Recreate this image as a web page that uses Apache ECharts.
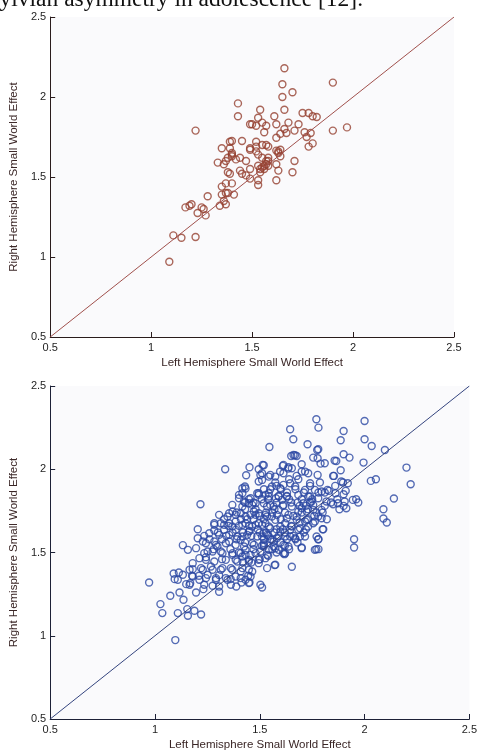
<!DOCTYPE html>
<html>
<head>
<meta charset="utf-8">
<script src="https://cdn.jsdelivr.net/npm/echarts@6/dist/echarts.min.js"></script>
<style>
html,body{margin:0;padding:0;background:#ffffff;}
#chart{width:480px;height:752px;}
</style>
</head>
<body>
<div id="chart"></div>
<script>
// Axis ticks shared by both panels
var axisTicks = [0.5, 1, 1.5, 2, 2.5];
var axisTitleX = 'Left Hemisphere Small World Effect';
var axisTitleY = 'Right Hemisphere Small World Effect';
var captionText = 'sylvian asymmetry in adolescence [12].';

// Identity line y = x
var identityLine = [[0.5, 0.5], [2.5, 2.5]];

// Top panel: [left, right] small world effect
var topPoints = [
[1.66,2.18],[1.90,2.09],[1.65,2.08],[1.70,2.03],[1.65,2.00],[1.43,1.96],[1.54,1.92],[1.66,1.92],
[1.43,1.88],[1.53,1.87],[1.61,1.88],[1.49,1.83],[1.50,1.83],[1.52,1.82],[1.55,1.84],[1.57,1.82],
[1.56,1.78],[1.62,1.83],[1.68,1.84],[1.75,1.90],[1.78,1.90],[1.80,1.88],[1.82,1.875],[1.73,1.83],
[1.71,1.79],[1.66,1.80],[1.67,1.775],[1.64,1.77],[1.62,1.745],[1.76,1.78],[1.79,1.775],[1.77,1.75],
[1.90,1.79],[1.97,1.81],[1.22,1.79],[1.78,1.69],[1.80,1.71],[1.45,1.725],[1.39,1.72],[1.40,1.725],
[1.35,1.68],[1.39,1.68],[1.40,1.65],[1.40,1.63],[1.42,1.61],[1.33,1.59],[1.36,1.58],[1.37,1.60],
[1.38,1.53],[1.39,1.52],[1.47,1.60],[1.52,1.72],[1.55,1.70],[1.57,1.70],[1.58,1.69],[1.49,1.68],
[1.49,1.67],[1.52,1.66],[1.53,1.64],[1.55,1.62],[1.57,1.60],[1.57,1.58],[1.56,1.57],[1.54,1.55],
[1.54,1.53],[1.49,1.55],[1.44,1.54],[1.45,1.52],[1.49,1.49],[1.53,1.48],[1.53,1.45],[1.62,1.665],
[1.63,1.65],[1.64,1.63],[1.62,1.58],[1.63,1.54],[1.62,1.48],[1.71,1.60],[1.70,1.53],[1.58,1.62],
[1.58,1.57],[1.35,1.44],[1.37,1.46],[1.40,1.46],[1.35,1.39],[1.37,1.40],[1.38,1.40],[1.36,1.35],
[1.37,1.33],[1.34,1.32],[1.28,1.38],[1.41,1.39],[1.17,1.31],[1.19,1.32],[1.20,1.33],[1.25,1.31],
[1.26,1.30],[1.23,1.275],[1.27,1.26],[1.11,1.135],[1.15,1.12],[1.22,1.125],[1.09,0.97],
[1.53,1.57],[1.55,1.56],[1.56,1.55],[1.63,1.66],[1.64,1.67],[1.40,1.64],[1.38,1.62],[1.47,1.51],
[1.44,1.62],[1.52,1.69],[1.58,1.60]
];

// Bottom panel: [left, right] small world effect
var bottomPoints = [
[1.77,2.30],[2.00,2.29],[1.78,2.25],[1.645,2.24],[1.90,2.23],[1.66,2.18],[1.886,2.174],[2.00,2.18],
[1.728,2.15],[1.546,2.134],[2.034,2.14],[2.097,2.116],[1.774,2.116],[1.65,2.08],[1.668,2.084],[1.755,2.07],
[1.90,2.09],[1.928,2.07],[1.865,2.05],[1.995,2.04],[1.79,2.034],[1.335,2.00],[1.519,2.024],[1.495,2.00],
[1.61,2.02],[1.636,2.004],[1.70,2.03],[1.886,1.994],[1.85,1.96],[2.20,2.01],[2.22,1.91],[2.03,1.93],
[2.054,1.94],[2.14,1.824],[1.96,1.82],[1.97,1.80],[1.944,1.816],[1.897,1.92],[1.91,1.87],[1.85,1.79],
[1.90,1.78],[2.09,1.76],[2.09,1.704],[2.106,1.68],[1.95,1.58],[1.95,1.53],[1.80,1.64],[1.78,1.58],
[1.78,1.52],[1.77,1.52],[1.70,1.53],[1.653,1.414],[1.571,1.424],[1.511,1.29],[1.618,1.49],[0.972,1.32],
[1.026,1.19],[1.035,1.136],[1.073,1.24],[1.089,1.374],[1.114,1.38],[1.094,1.34],[1.117,1.26],[1.109,1.136],
[1.097,0.974],[1.136,1.216],[1.154,1.16],[1.157,1.12],[1.188,1.15],[1.22,1.128],[1.149,1.31],[1.168,1.316],
[1.133,1.544],[1.157,1.516],[1.217,1.79],[1.204,1.64],[1.435,1.964],[1.432,1.884],[1.306,1.264],[1.231,1.28],
[1.196,1.26],[1.18,1.40],[1.177,1.36],[1.21,1.36],[1.275,1.30],[1.306,1.364],[1.388,1.296],[1.361,1.34],
[1.413,1.32],[1.451,1.32],[1.445,1.36],
[1.779,2.12],[1.661,2.086],[1.676,2.08],[1.776,2.066],[1.857,2.052],[1.81,2.036],[1.514,2.026],[1.451,2.012],
[1.613,2.026],[1.637,2.012],[1.653,2.006],[1.597,1.986],[1.70,1.986],[1.716,1.986],[1.731,1.976],[1.776,1.966],
[1.854,1.96],[1.889,1.926],[1.92,1.916],[1.503,1.966],[1.55,1.966],[1.574,1.956],[1.613,1.976],[1.676,1.96],
[1.684,1.94],[1.645,1.916],[1.74,1.916],[1.787,1.92],[1.823,1.876],[1.861,1.856],[1.905,1.806],[1.873,1.796],
[1.913,1.766],[1.429,1.896],[1.417,1.856],[1.495,1.926],[1.511,1.936],[1.574,1.92],[1.613,1.906],[1.558,1.896],
[1.598,1.886],[1.669,1.896],[1.716,1.876],[1.763,1.876],[1.795,1.866],[1.684,1.846],[1.74,1.836],[1.779,1.826],
[1.818,1.806],[1.708,1.796],[1.755,1.786],[1.795,1.756],[1.779,1.716],[1.795,1.706],[1.724,1.746],[1.684,1.746],
[1.653,1.776],[1.606,1.816],[1.629,1.836],[1.577,1.826],[1.527,1.846],[1.488,1.856],[1.456,1.826],[1.424,1.806],
[1.48,1.796],[1.55,1.786],[1.59,1.756],[1.637,1.726],[1.676,1.696],[1.716,1.686],[1.755,1.676],[1.803,1.64],
[1.684,1.636],[1.653,1.656],[1.621,1.676],[1.574,1.696],[1.527,1.726],[1.472,1.746],[1.432,1.716],[1.495,1.676],
[1.543,1.656],[1.598,1.626],[1.645,1.596],[1.692,1.596],[1.779,1.58],[1.70,1.526],[1.637,1.536],[1.613,1.496],
[1.558,1.576],[1.511,1.596],[1.448,1.626],[1.417,1.596],[1.464,1.556],[1.519,1.536],[1.574,1.526],[1.432,1.516],
[1.48,1.496],
[1.511,1.976],[1.543,1.956],[1.417,1.886],[1.495,1.856],[1.543,1.836],[1.401,1.826],[1.448,1.796],[1.37,1.746],
[1.354,1.736],[1.409,1.736],[1.456,1.726],[1.495,1.736],[1.535,1.776],[1.558,1.716],[1.354,1.676],[1.385,1.686],
[1.432,1.676],[1.48,1.666],[1.527,1.676],[1.283,1.666],[1.314,1.676],[1.283,1.632],[1.33,1.636],[1.385,1.636],
[1.452,1.63],[1.519,1.616],[1.204,1.586],[1.235,1.60],[1.228,1.566],[1.283,1.566],[1.298,1.536],[1.354,1.566],
[1.409,1.576],[1.519,1.546],[1.566,1.566],[1.196,1.526],[1.251,1.506],[1.314,1.506],[1.37,1.496],[1.432,1.486],
[1.535,1.486],[1.243,1.472],[1.283,1.446],[1.338,1.456],[1.393,1.446],[1.448,1.456],[1.495,1.436],[1.212,1.466],
[1.18,1.436],[1.22,1.406],[1.267,1.416],[1.314,1.396],[1.362,1.406],[1.409,1.386],[1.448,1.396],[1.535,1.406],
[1.165,1.396],[1.133,1.366],[1.109,1.336],[1.18,1.356],[1.212,1.336],[1.251,1.366],[1.291,1.336],[1.338,1.346],
[1.385,1.356],[1.432,1.336],[1.165,1.306],[1.235,1.306],[1.306,1.296],[1.362,1.306],
[1.401,1.846],[1.448,1.82],[1.495,1.846],[1.543,1.856],[1.59,1.836],[1.629,1.84],[1.732,1.836],[1.747,1.806],
[1.369,1.786],[1.417,1.776],[1.464,1.786],[1.519,1.796],[1.566,1.776],[1.613,1.786],[1.70,1.766],[1.755,1.756],
[1.306,1.726],[1.346,1.716],[1.385,1.726],[1.48,1.726],[1.535,1.716],[1.582,1.726],[1.629,1.706],[1.676,1.716],
[1.724,1.696],[1.763,1.686],[1.283,1.676],[1.33,1.666],[1.369,1.656],[1.417,1.666],[1.464,1.656],[1.511,1.666],
[1.55,1.646],[1.598,1.656],[1.645,1.636],[1.692,1.646],[1.731,1.656],[1.259,1.616],[1.306,1.606],[1.354,1.606],
[1.393,1.596],[1.44,1.606],[1.488,1.596],[1.535,1.606],[1.582,1.586],[1.621,1.596],[1.669,1.586],[1.716,1.596],
[1.771,1.596],[1.243,1.556],[1.291,1.546],[1.338,1.556],[1.385,1.546],[1.425,1.536],[1.472,1.546],[1.519,1.556],
[1.566,1.536],[1.613,1.546],[1.621,1.496],[1.763,1.516],[1.235,1.496],[1.275,1.506],[1.322,1.496],[1.369,1.486],
[1.409,1.496],[1.456,1.486],[1.503,1.506],[1.543,1.516],[1.59,1.516],[1.243,1.456],[1.385,1.456],[1.417,1.476],
[1.448,1.446],[1.495,1.456],[1.527,1.466],[1.574,1.426],[1.228,1.396],[1.275,1.396],[1.322,1.406],[1.369,1.396],
[1.417,1.406],[1.464,1.386],[1.243,1.346],[1.291,1.346],[1.346,1.336],[1.409,1.346],[1.456,1.356],[1.448,1.316],
[1.503,1.306],
[1.81,1.86],[1.80,1.74],[1.82,1.70],[1.84,1.80],[1.87,1.82],[1.88,1.76],[1.83,1.87],[1.90,1.85],
[1.86,1.90],[1.81,1.78],
[1.60,1.70],[1.62,1.74],[1.66,1.72],[1.70,1.74],[1.72,1.78],[1.68,1.80],[1.64,1.82],[1.58,1.80],
[1.56,1.74],[1.52,1.70],[1.50,1.62],[1.54,1.60],[1.58,1.64],[1.62,1.62],[1.66,1.60],[1.60,1.56],
[1.56,1.52],[1.52,1.58],[1.46,1.60],[1.42,1.62],[1.40,1.66],[1.44,1.70],[1.48,1.76],[1.54,1.82],
[1.60,1.88],[1.70,1.82],[1.74,1.80],[1.76,1.72],[1.72,1.64],[1.68,1.56],[1.64,1.52],
[1.47,1.70],[1.50,1.72],[1.53,1.74],[1.57,1.76],[1.61,1.78],[1.65,1.80],[1.69,1.78],[1.73,1.76],
[1.77,1.74],[1.75,1.82],[1.71,1.86],[1.67,1.88],[1.63,1.86],[1.59,1.84],[1.55,1.88],[1.51,1.82],
[1.47,1.80],[1.43,1.76],[1.41,1.70],[1.45,1.66],[1.49,1.64],[1.53,1.62],[1.57,1.62],[1.61,1.64],
[1.65,1.66],[1.69,1.68],[1.73,1.70],[1.71,1.62],[1.67,1.58],[1.63,1.58],[1.59,1.60],[1.55,1.58],
[1.51,1.54],[1.47,1.52],[1.43,1.56],[1.39,1.58],[1.37,1.62],[1.35,1.66],[1.33,1.70],[1.39,1.74],
[1.43,1.80],[1.52,1.88],[1.58,1.90],[1.64,1.94],[1.74,1.90],[1.78,1.86],[1.62,1.54],[1.58,1.50],
[1.54,1.48],[1.50,1.46],[1.46,1.44],[1.42,1.44],[1.40,1.50],[1.36,1.52],[1.32,1.58],[1.30,1.62],
[1.34,1.60],[1.26,1.58],[1.28,1.52],[1.32,1.46]
];

var FONT = '"Liberation Sans", Arial, sans-serif';

function makeX(idx, lineColor) {
  return {
    type: 'value', gridIndex: idx,
    min: axisTicks[0], max: axisTicks[axisTicks.length - 1], interval: 0.5,
    axisLine: { show: true, lineStyle: { color: lineColor, width: 1 } },
    axisTick: { show: true, inside: true, length: 5, lineStyle: { color: lineColor, width: 1 } },
    axisLabel: { show: true, margin: 5, fontSize: 11, color: '#1e1e1e', fontFamily: FONT,
                 showMinLabel: true, showMaxLabel: true },
    splitLine: { show: false },
    name: axisTitleX, nameLocation: 'middle', nameGap: 20,
    nameTextStyle: { fontSize: 11.5, color: '#3a2626', fontFamily: FONT }
  };
}
function makeY(idx, lineColor) {
  return {
    type: 'value', gridIndex: idx,
    min: axisTicks[0], max: axisTicks[axisTicks.length - 1], interval: 0.5,
    axisLine: { show: true, lineStyle: { color: lineColor, width: 1 } },
    axisTick: { show: true, inside: true, length: 5, lineStyle: { color: lineColor, width: 1 } },
    axisLabel: { show: true, margin: 4, fontSize: 11, color: '#1e1e1e', fontFamily: FONT,
                 showMinLabel: true, showMaxLabel: true },
    splitLine: { show: false },
    name: axisTitleY, nameLocation: 'middle', nameGap: 27, nameRotate: 90,
    nameTextStyle: { fontSize: 11.5, color: '#3a2626', fontFamily: FONT }
  };
}

var chart = echarts.init(document.getElementById('chart'), null, { renderer: 'canvas' });
chart.setOption({
  animation: false,
  backgroundColor: '#ffffff',
  grid: [
    { left: 49, top: 17, width: 405, height: 320, backgroundColor: '#fafafc', show: true, borderWidth: 0 },
    { left: 49, top: 386, width: 424, height: 333, backgroundColor: '#fafafc', show: true, borderWidth: 0 }
  ],
  xAxis: [makeX(0, '#2a1c1c'), makeX(1, '#1c2036')],
  yAxis: [makeY(0, '#2a1c1c'), makeY(1, '#1c2036')],
  graphic: [{
    type: 'text',
    style: { text: captionText, x: 363, y: 12, textAlign: 'right', textVerticalAlign: 'bottom',
             font: '23.5px "Liberation Serif", "Times New Roman", serif', fill: '#111111' }
  }],
  series: [
    { type: 'scatter', xAxisIndex: 0, yAxisIndex: 0, data: topPoints, symbol: 'circle', symbolSize: 7,
      itemStyle: { color: 'rgba(0,0,0,0)', borderColor: '#95402f', borderWidth: 1.4 }, z: 2 },
    { type: 'line', xAxisIndex: 0, yAxisIndex: 0, data: identityLine, symbol: 'none',
      lineStyle: { color: '#a0504c', width: 1 }, z: 3 },
    { type: 'scatter', xAxisIndex: 1, yAxisIndex: 1, data: bottomPoints, symbol: 'circle', symbolSize: 7,
      itemStyle: { color: 'rgba(0,0,0,0)', borderColor: '#2b47a3', borderWidth: 1.4 }, z: 2 },
    { type: 'line', xAxisIndex: 1, yAxisIndex: 1, data: identityLine, symbol: 'none',
      lineStyle: { color: '#34447e', width: 1 }, z: 3 }
  ]
});
</script>
</body>
</html>
